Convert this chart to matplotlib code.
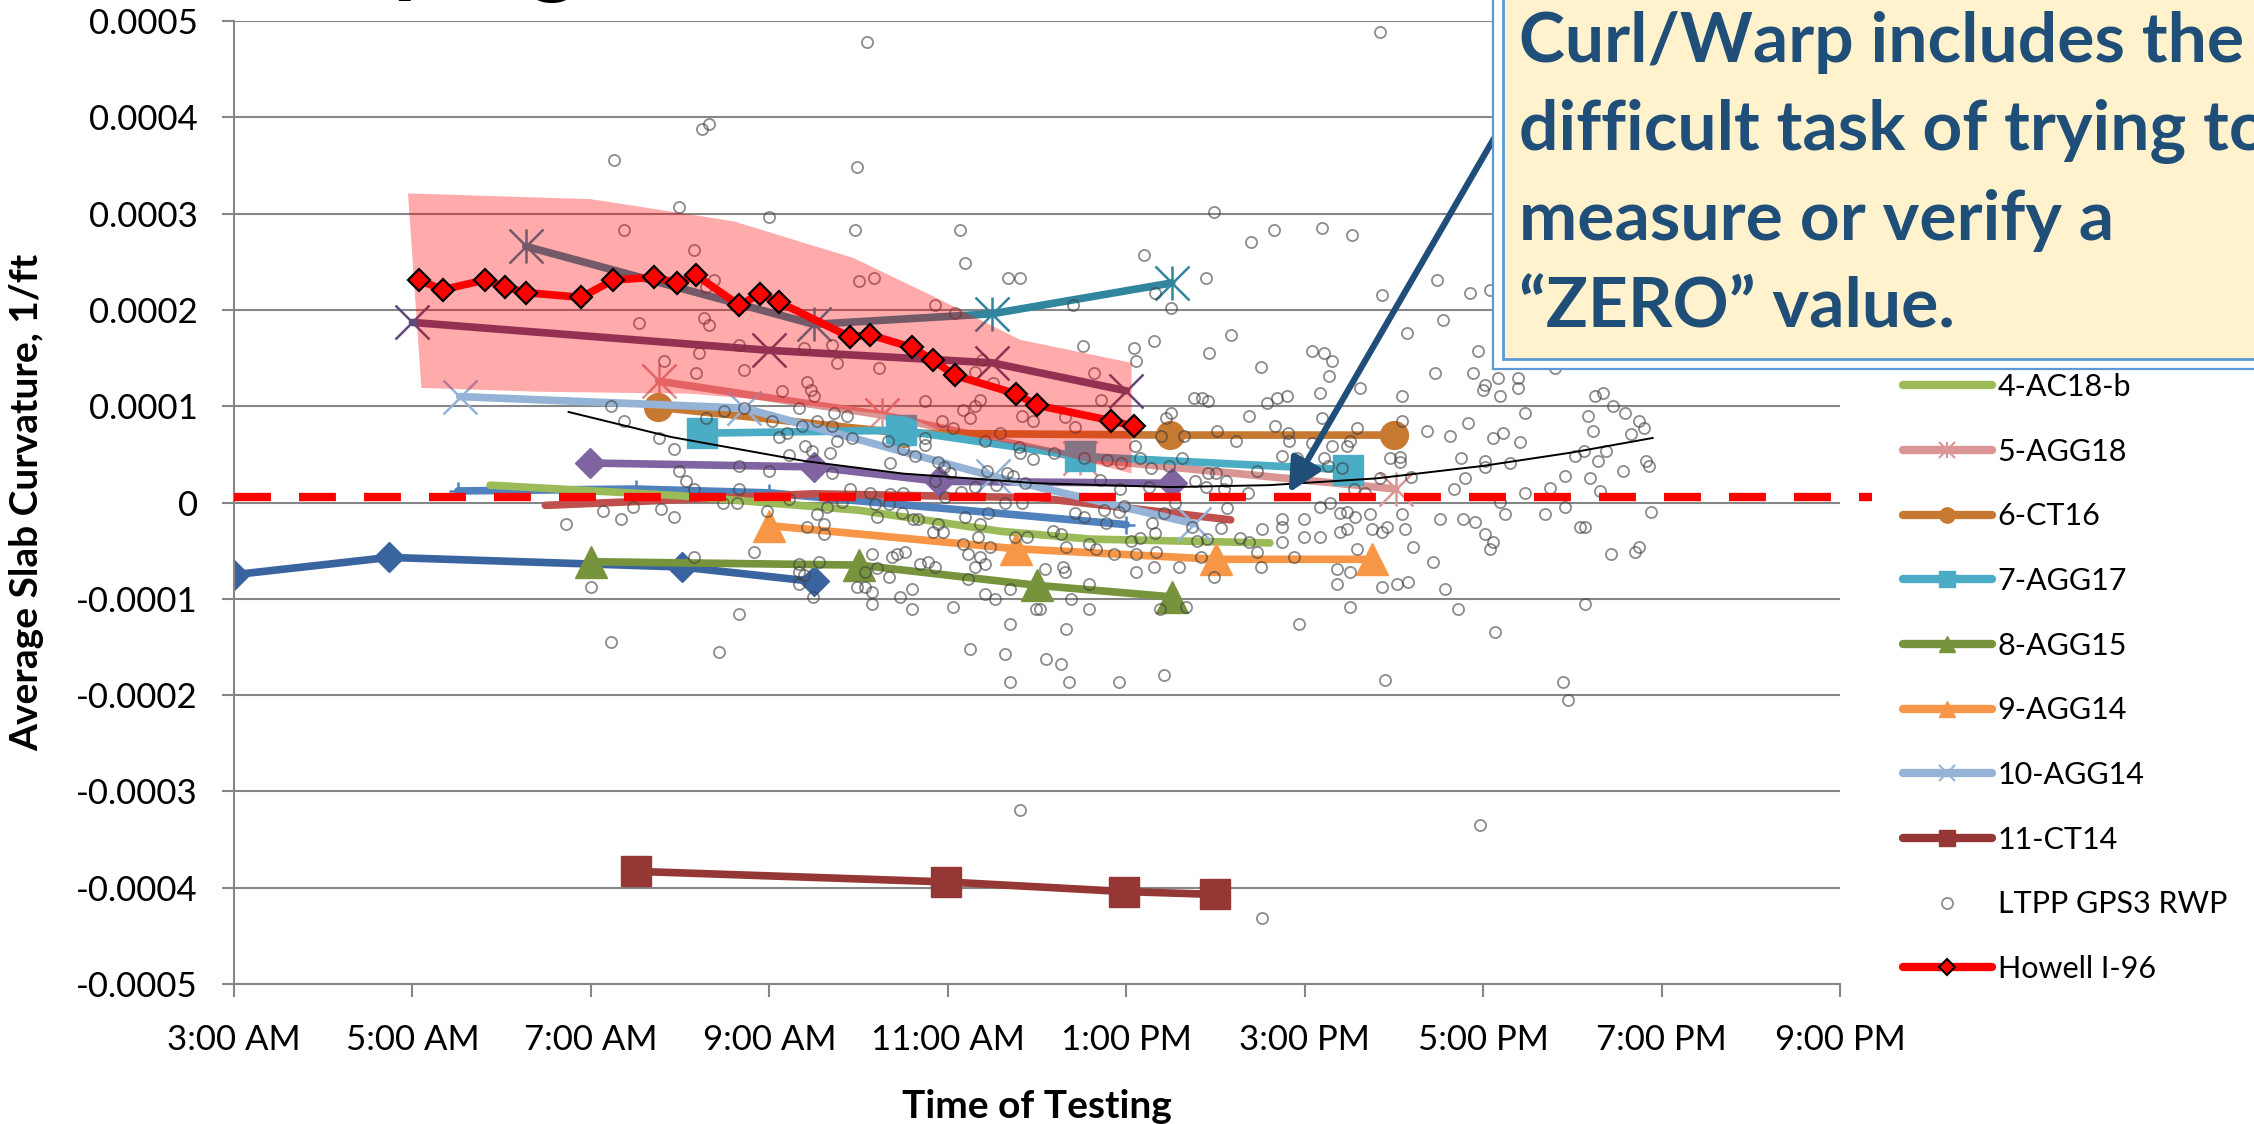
import numpy as np
import matplotlib
matplotlib.use("Agg")
import matplotlib.pyplot as plt
from matplotlib.lines import Line2D
from matplotlib.patches import Rectangle
from matplotlib.ticker import FuncFormatter

plt.rcParams['font.family'] = ['Lato', 'DejaVu Sans']

SCALE = 1e-4   # curvatures below are listed in units of 1e-4 1/ft

# ---- individual test sections: time of day (h), curvature (x1e-4 1/ft) ----
sec1_time = [3.0, 4.74, 8.02, 9.50]
sec1_curv = [-0.75, -0.57, -0.67, -0.82]
sec2_time = [5.51, 7.51, 9.00, 13.00]
sec2_curv = [0.12, 0.14, 0.10, -0.23]
sec3_time = [6.49, 9.5, 12.0, 14.17]
sec3_curv = [-0.03, 0.09, 0.05, -0.18]
teal_time = [6.27, 9.50, 11.50, 13.51]
teal_curv = [2.66, 1.85, 1.96, 2.28]
plum_time = [5.0, 9.0, 11.5, 13.0]
plum_curv = [1.87, 1.58, 1.45, 1.16]
violet_time = [6.99, 9.50, 10.9, 13.51]
violet_curv = [0.41, 0.37, 0.22, 0.20]

ac18b_time = [5.87, 8.0, 10.0, 11.6, 12.6, 14.61]
ac18b_curv = [0.18, 0.07, -0.08, -0.30, -0.38, -0.42]
agg18_time = [7.76, 10.26, 12.48, 16.02]
agg18_curv = [1.26, 0.91, 0.46, 0.14]
ct16_time = [7.75, 10.5, 13.49, 16.0]
ct16_curv = [0.99, 0.72, 0.70, 0.70]
agg17_time = [8.25, 10.48, 12.48, 15.49]
agg17_curv = [0.72, 0.75, 0.48, 0.34]
agg15_time = [7.0, 10.01, 12.0, 13.51]
agg15_curv = [-0.615, -0.65, -0.86, -0.98]
agg14_time = [9.0, 11.76, 14.01, 15.75]
agg14_curv = [-0.24, -0.48, -0.59, -0.59]
agg14b_time = [5.53, 8.72, 11.51, 13.76]
agg14b_curv = [1.10, 0.98, 0.27, -0.22]
ct14_time = [7.50, 10.98, 12.98, 14.0]
ct14_curv = [-3.83, -3.94, -4.04, -4.07]

howell_time = [5.07, 5.34, 5.81, 6.04, 6.27, 6.89, 7.25, 7.71, 7.96, 8.18, 8.66,
               8.89, 9.11, 9.90, 10.13, 10.60, 10.83, 11.08, 11.76, 12.00, 12.83, 13.09]
howell_curv = [2.31, 2.21, 2.31, 2.24, 2.18, 2.13, 2.31, 2.34, 2.28, 2.36, 2.05,
               2.16, 2.08, 1.72, 1.74, 1.61, 1.48, 1.32, 1.13, 1.01, 0.85, 0.79]

# Howell I-96 spread band
band_top_time = [4.95, 7.0, 8.6, 9.94, 10.84, 11.81, 13.06]
band_top_curv = [3.21, 3.15, 2.92, 2.54, 2.14, 1.69, 1.45]
band_bot_time = [5.10, 6.43, 8.11, 8.75, 10.54, 10.91, 12.04, 13.06]
band_bot_curv = [1.19, 1.15, 1.13, 1.08, 0.89, 0.75, 0.55, 0.30]

# trend through the LTPP data
trend_time = [6.75, 7.9, 9.4, 10.5, 12.0, 13.5, 14.6, 15.8, 17.0, 18.0, 18.9]
trend_curv = [0.94, 0.68, 0.43, 0.30, 0.20, 0.16, 0.18, 0.25, 0.38, 0.52, 0.67]

# reference line just above zero
ref_time = [3.0, 21.36]
ref_curv = [0.054, 0.054]

# LTPP GPS3 RWP sections
ltpp_time = [
    10.10, 8.325, 8.242, 7.256, 9.984, 7.988, 8.997, 7.368, 9.958, 11.139, 8.153, 11.191,
    10.010, 10.178, 11.677, 11.811, 8.381, 8.295, 10.858, 11.082, 7.536, 8.265, 8.325,
    8.661, 9.393, 9.704, 8.213, 9.756, 10.234, 7.816, 8.183, 8.717, 11.303, 11.389,
    11.508, 9.420, 9.472, 9.505, 9.143, 10.746, 11.363, 11.303, 11.168, 11.251, 10.940,
    11.056, 11.587, 11.419, 7.226, 7.368, 7.760, 7.932, 8.295, 8.493, 8.717, 9.027,
    9.337, 9.367, 9.532, 9.704, 9.730, 9.872, 9.195, 9.109, 9.760, 9.928, 9.397, 9.476,
    9.677, 9.218, 10.328, 10.496, 10.638, 10.746, 10.746, 10.354, 10.888, 10.963,
    11.027, 10.858, 11.793, 11.811, 11.830, 11.957, 11.957, 11.445, 11.669, 11.729,
    11.867, 11.538, 11.307, 11.146, 8.661, 8.997, 9.704, 7.988, 8.067, 8.153, 8.661,
    9.902, 10.126, 10.354, 10.496,
    15.840, 13.979, 14.401, 14.659, 15.194, 15.530, 13.194, 13.897, 16.483, 16.857,
    17.081, 15.866, 12.402, 13.325, 13.505, 16.547, 16.147, 14.177, 12.514, 13.082,
    13.307, 13.112, 13.927, 15.082, 15.220, 15.306, 15.276, 14.514, 16.939, 16.457,
    16.883, 17.025, 17.163, 17.387, 16.995, 17.193, 17.387, 17.473, 15.616, 15.168,
    16.091, 14.801, 14.689, 14.577, 13.755, 13.848, 13.912, 12.634, 12.716, 14.375,
    15.194, 15.586, 16.827, 16.371, 16.625, 17.111, 17.223, 17.417, 16.091, 14.017,
    14.233, 13.650, 13.393, 13.501, 13.449, 14.671, 14.809, 14.824, 15.082, 15.306,
    15.474, 15.511, 13.101, 13.157, 13.280, 13.478, 13.624, 14.465, 14.745, 14.913,
    15.220, 15.257, 15.418, 15.960, 16.072, 16.072, 16.752, 17.025, 17.025, 17.305,
    15.848, 16.191, 16.801, 16.670, 17.473, 13.774, 13.912, 14.009, 14.121, 13.890,
    14.091, 14.360, 15.549, 15.680, 12.185, 12.522, 12.783, 12.944, 12.709, 12.933,
    13.251, 12.316, 12.428,
    8.635, 8.485, 9.225, 10.970, 10.212, 10.186, 10.346, 10.485, 10.615, 10.664,
    10.888, 10.944, 10.832, 11.168, 11.224, 11.337, 11.363, 11.475, 11.363, 11.419,
    11.307, 11.194, 11.449, 11.643, 11.837, 11.755, 11.893, 11.224, 11.419, 11.531,
    11.699, 11.053, 11.699, 11.251, 11.643, 11.699, 11.811, 11.990, 6.721, 7.140,
    7.338, 7.476, 7.787, 7.932, 8.153, 7.002, 7.226, 8.437, 8.661, 8.829, 8.971,
    9.420, 9.532, 9.618, 9.618, 9.644, 9.812, 9.337, 9.337, 9.337, 9.393, 9.494,
    9.562, 9.980, 10.073, 10.073, 10.152, 10.152, 10.152, 10.212, 10.346, 10.380,
    10.436, 10.522, 10.466, 10.604, 10.604, 10.690, 10.776, 10.858,
    12.428, 12.522, 12.746, 12.776, 12.914, 12.970, 13.288, 13.419, 13.325, 13.549,
    12.178, 12.268, 12.327, 12.578, 12.664, 12.858, 13.109, 13.052, 13.157, 13.336,
    12.092, 12.290, 12.316, 12.578, 12.380, 12.578, 12.036, 12.324, 12.100, 12.268,
    12.354, 12.914, 13.419, 13.109, 13.307, 13.587, 13.669, 13.374, 13.736, 13.792,
    13.904, 13.841, 13.979, 14.065, 14.129, 14.278, 14.372, 14.465, 14.510, 14.521,
    14.745, 14.745, 14.745, 14.884, 14.996, 14.996, 15.168, 15.168, 15.287, 15.392,
    15.392, 15.474, 15.474, 15.560, 15.586, 15.362, 15.504, 15.362, 15.504, 15.728,
    15.758, 15.870, 15.922, 16.094, 16.128, 16.210, 15.866, 16.035, 16.154, 15.896,
    16.434, 16.573, 16.715, 16.520, 16.771, 16.913, 17.025, 17.111, 17.081, 17.249,
    17.137, 16.969, 14.517, 14.940,
    17.809, 18.257, 18.343, 18.455, 18.594, 18.171, 18.743, 18.799, 18.231, 18.657,
    17.921, 18.033, 18.126, 18.381, 18.287, 18.201, 18.567, 18.825, 18.855, 17.753,
    18.313, 17.192, 17.921, 17.697, 18.881, 18.089, 18.145, 18.433, 18.706, 18.743,
    18.145, 17.895, 17.951]
ltpp_curv = [
    4.785, 3.927, 3.875, 3.560, 3.484, 3.065, 2.961, 2.830, 2.830, 2.830, 2.622, 2.490,
    2.303, 2.335, 2.335, 2.335, 2.310, 2.234, 2.051, 1.971, 1.867, 1.919, 1.840,
    1.635, 1.601, 1.635, 1.556, 1.445, 1.393, 1.473, 1.341, 1.376, 1.352, 1.480,
    1.237, 1.248, 1.168, 1.106, 1.161, 1.057, 1.064, 1.002, 0.960, 0.881, 0.850,
    0.770, 0.718, 0.642, 1.005, 0.850, 0.666, 0.559, 0.881, 0.954, 0.978, 0.850,
    0.981, 0.798, 0.850, 0.798, 0.926, 0.902, 0.718, 0.684, 0.642, 0.666, 0.590, 0.538,
    0.511, 0.493, 0.642, 0.559, 0.486, 0.666, 0.597, 0.407, 0.424, 0.372,
    0.303, 0.220, 0.580, 0.517, 0.898, 0.850, 0.452, 0.324, 0.310, 0.275,
    0.206, 0.178, 0.164, 0.112, 0.379, 0.324, 0.303, 0.327, 0.220, 0.144, 0.144,
    0.144, 0.095, 0.085, 0.102,
    4.889, 3.013, 2.702, 2.830, 2.854, 2.778, 2.570, 2.335, 2.310, 2.179,
    2.207, 2.155, 2.051, 2.179, 2.023, 1.895, 1.764, 1.739, 1.628, 1.601,
    1.680, 1.473, 1.556, 1.577, 1.556, 1.473, 1.314, 1.410, 1.577, 1.341,
    1.341, 1.220, 1.289, 1.289, 1.168, 1.106, 1.185, 0.926, 1.185, 1.134,
    1.106, 1.106, 1.082, 1.030, 1.082, 1.082, 1.057, 1.348, 1.064, 0.898,
    0.874, 0.770, 0.822, 0.742, 0.690, 0.666, 0.718, 0.632, 0.850, 0.742,
    0.639, 0.690, 0.690, 0.926, 0.874, 0.794, 0.718, 0.639, 0.614, 0.587,
    0.587, 0.642, 0.587, 0.459, 0.355, 0.379, 0.459, 0.331, 0.486, 0.459,
    0.459, 0.379, 0.355, 0.459, 0.476, 0.417, 0.459, 0.431, 0.372, 0.407,
    0.251, 0.268, 0.251, 0.144, 0.095, 0.223, 0.303, 0.303, 0.223, 0.164,
    0.144, 0.095, 0.144, 0.095, 0.511, 0.459, 0.441, 0.407, 0.234, 0.137,
    0.164, 0.891, 0.780,
    -0.009, 0.000, 0.036, 0.060, -0.147, -0.019, -0.019, -0.113, -0.172, -0.172,
    -0.223, -0.303, -0.303, -0.431, -0.535, -0.355, -0.223, -0.459, -0.570, -0.642,
    -0.666, -0.147, -0.113, -0.009, -0.009, -0.355, -0.355, -0.795, -0.954, -1.006,
    -0.902, -1.082, -1.265, -1.525, -1.577, -1.861, -3.193, -1.109, -0.223, -0.088,
    -0.172, -0.043, -0.068, -0.147, -0.563, -0.874, -1.445, -1.549, -1.161, -0.511, -0.088,
    -0.251, -0.120, -0.223, -0.327, -0.043, 0.008, -0.639, -0.718, -0.847, -0.753, -0.978,
    -0.615, -0.874, -0.874, -0.718, -0.535, -0.926, -1.054, -0.684, -0.770, -0.563,
    -0.535, -0.511, -0.978, -0.902, -1.109, -0.639, -0.615, -0.666,
    -0.113, -0.147, -0.078, -0.217, -0.095, -0.037, -0.217, -0.113, -0.320, -0.009,
    -0.293, -0.327, -0.459, -0.431, -0.483, -0.535, -0.535, -0.397, -0.372, -0.511,
    -0.691, -0.666, -0.718, -0.846, -1.006, -1.109, -1.109, -1.317, -1.629, -1.681,
    -1.868, -1.868, -1.791, -0.718, -0.666, -0.666, -1.082, -1.109, -0.258, -0.397,
    -0.383, -0.563, -0.770, -0.268, -0.061, -0.372, -0.407, -0.511, -0.666, -0.275,
    -0.172, -0.251, -0.407, -0.563, -0.172, -0.355, -0.043, -0.355, -0.009, -0.113,
    -0.303, -0.095, -0.275, -0.147, -0.483, -0.691, -0.725, -0.850, -1.082, -0.120,
    -0.275, -0.303, -0.251, -0.120, -0.275, -0.459, -0.874, -0.850, -0.822, -1.843,
    -0.615, -0.902, -1.109, -0.172, -0.172, -0.199, -0.327, -0.407, -0.483, -0.120,
    -1.341, -3.349, -4.318, -1.265,
    1.393, 1.106, 1.133, 1.002, 0.926, 0.898, 0.850, 0.770, 0.746, 0.711,
    0.275, 0.483, 0.538, 0.538, 0.431, 0.251, 0.327, 0.431, 0.379, 0.147,
    0.119, 0.008, -0.044, -0.120, -0.095, -0.251, -0.251, -0.535, -0.511, -0.459,
    -1.058, -1.864, -2.051]

legend_labels = ['4-AC18-b', '5-AGG18', '6-CT16', '7-AGG17', '8-AGG15',
                 '9-AGG14', '10-AGG14', '11-CT14', 'LTPP GPS3 RWP', 'Howell I-96']

callout_lines = ['Curl/Warp includes the', 'difficult task of trying to',
                 'measure or verify a', '\u201cZERO\u201d value.']

W, H = 2254, 1124
fig = plt.figure(figsize=(W / 100, H / 100), dpi=100)
ax = fig.add_axes([234 / W, 1 - 984 / H, (1840 - 234) / W, (984 - 21) / H])

LW = 5.5


def curv(c):
    return np.array(c) * SCALE


def draw(t, c, color, marker=None, ms=0, lw=LW, z=2, **kw):
    ax.plot(t, curv(c), color=color, lw=lw, marker=marker, markersize=ms,
            solid_capstyle='round', solid_joinstyle='round', zorder=z, **kw)


def crosses(t, c, color, ms=24, star=False):
    ax.plot(t, curv(c), ls='none', marker='x', ms=ms, mec=color, mew=1.8, zorder=2)
    if star:
        ax.plot(t, curv(c), ls='none', marker='|', ms=ms, mec=color, mew=1.8, zorder=2)


draw(sec1_time, sec1_curv, '#3A64A0', 'D', 15)
draw(sec2_time, sec2_curv, '#4F81BD', '+', 13, mew=1.8)
draw(sec3_time, sec3_curv, '#C0504D')
draw(teal_time, teal_curv, '#31859C')
crosses(teal_time, teal_curv, '#31859C', star=True)
draw(plum_time, plum_curv, '#604A7B')
crosses(plum_time, plum_curv, '#604A7B')
draw(ac18b_time, ac18b_curv, '#9BBB59')
draw(agg18_time, agg18_curv, '#D99694')
crosses(agg18_time, agg18_curv, '#D99694', star=True)
draw(ct16_time, ct16_curv, '#C77831', 'o', 20)
draw(agg17_time, agg17_curv, '#4BACC6', 's', 21)
draw(violet_time, violet_curv, '#8064A2', 'D', 15)
draw(agg15_time, agg15_curv, '#77933C', '^', 23)
draw(agg14_time, agg14_curv, '#F79646', '^', 23)
draw(agg14b_time, agg14b_curv, '#95B3D7')
crosses(agg14b_time, agg14b_curv, '#95B3D7')
draw(ct14_time, ct14_curv, '#953735', 's', 21)

ax.plot(ltpp_time, curv(ltpp_curv), ls='none', marker='o', ms=8, mfc='none',
        mec=(0.25, 0.25, 0.25, 0.6), mew=1.3, zorder=3)

band_t = band_top_time + band_bot_time[::-1]
band_c = band_top_curv + band_bot_curv[::-1]
ax.fill(band_t, curv(band_c), color='red', alpha=0.33, lw=0, zorder=4)

ax.plot(trend_time, curv(trend_curv), color='black', lw=1.4, zorder=5)

ax.plot(howell_time, curv(howell_curv), color='red', lw=LW, marker='D', ms=11,
        mfc='red', mec='black', mew=1.6, solid_joinstyle='round', zorder=6)

ax.plot(ref_time, curv(ref_curv), color='red', lw=6, ls=(0, (4.43, 3.37)),
        clip_on=False, zorder=7)

# axes styling
ax.set_xlim(3, 21)
ax.set_ylim(-0.0005, 0.0005)
ax.set_xticks(np.arange(3, 22, 2))
ax.set_yticks(np.arange(-5, 6) * SCALE)


def clock(h, pos):
    h = int(round(h)) % 24
    return f"{h % 12 or 12}:00 {'AM' if h < 12 else 'PM'}"


def curv_label(v, pos):
    return '0' if abs(v) < 1e-9 else f'{v:.4f}'


ax.xaxis.set_major_formatter(FuncFormatter(clock))
ax.yaxis.set_major_formatter(FuncFormatter(curv_label))
ax.yaxis.grid(True, color='#868686', lw=1.5)
ax.set_axisbelow(True)
for side in ('top', 'right'):
    ax.spines[side].set_visible(False)
for side in ('left', 'bottom'):
    ax.spines[side].set_color('#868686')
    ax.spines[side].set_linewidth(1.5)
ax.tick_params(axis='both', direction='out', length=9, width=1.5, color='#868686',
               labelsize=25, labelcolor='black')
ax.tick_params(axis='y', pad=17)
ax.tick_params(axis='x', pad=20)

ax.set_ylabel('Average Slab Curvature, 1/ft', fontsize=28, fontweight='bold')
ax.yaxis.set_label_coords(-0.118, 0.5)
ax.set_xlabel('Time of Testing', fontsize=28, fontweight='bold')
ax.xaxis.set_label_coords(0.5, -0.109)

# legend
lw_leg = 6
handles = [
    Line2D([], [], color='#9BBB59', lw=lw_leg, solid_capstyle='round'),
    (Line2D([], [], color='#D99694', lw=lw_leg, solid_capstyle='round'),
     Line2D([], [], ls='none', marker='x', ms=12, mec='#D99694', mew=1.5),
     Line2D([], [], ls='none', marker='|', ms=12, mec='#D99694', mew=1.5)),
    Line2D([], [], color='#C77831', lw=lw_leg, marker='o', ms=11, solid_capstyle='round'),
    Line2D([], [], color='#4BACC6', lw=lw_leg, marker='s', ms=11, solid_capstyle='round'),
    Line2D([], [], color='#77933C', lw=lw_leg, marker='^', ms=11, solid_capstyle='round'),
    Line2D([], [], color='#F79646', lw=lw_leg, marker='^', ms=11, solid_capstyle='round'),
    (Line2D([], [], color='#95B3D7', lw=lw_leg, solid_capstyle='round'),
     Line2D([], [], ls='none', marker='x', ms=12, mec='#95B3D7', mew=1.5)),
    Line2D([], [], color='#953735', lw=lw_leg, marker='s', ms=11, solid_capstyle='round'),
    Line2D([], [], ls='none', marker='o', ms=8, mfc='none', mec=(0.25, 0.25, 0.25, 0.6), mew=1.3),
    Line2D([], [], color='red', lw=lw_leg, marker='D', ms=8, mfc='red', mec='black',
           mew=1.5, solid_capstyle='round'),
]
fig.legend(handles, legend_labels, loc='upper left',
           bbox_to_anchor=(1903 / W, 1 - 373 / H), bbox_transform=fig.transFigure,
           frameon=False, fontsize=22, handlelength=2.9, handletextpad=0.2,
           labelspacing=1.2, borderpad=0, borderaxespad=0)

# callout arrow and box
ax.annotate('', xy=(14.82, 0.10 * SCALE), xytext=(17.19, 3.89 * SCALE),
            arrowprops=dict(arrowstyle='-|>,head_length=0.5,head_width=0.25',
                            color='#1F4E79', lw=4.5, mutation_scale=40,
                            shrinkA=0, shrinkB=0),
            annotation_clip=False, zorder=8)

fig.add_artist(Rectangle((1493 / W, 1 - 369 / H), 0.5, 0.5, transform=fig.transFigure,
                         facecolor='white', edgecolor='#5B9BD5', lw=1.6, zorder=9))
fig.add_artist(Rectangle((1503 / W, 1 - 359 / H), 0.5, 0.5, transform=fig.transFigure,
                         facecolor='#FFF2CC', edgecolor='#5B9BD5', lw=2.0, zorder=10))
for line, base in zip(callout_lines, [62, 150, 240, 328]):
    fig.text(1519 / W, 1 - base / H, line, fontsize=50, fontweight='bold',
             color='#1F4E79', va='baseline', ha='left', zorder=11)

# slide title above the chart, mostly outside the frame
fig.text(205 / W, 1 + 15 / H, 'Warping', fontsize=70, fontweight='bold',
         color='black', va='baseline', ha='left')

fig.savefig('out.png', dpi=100)
